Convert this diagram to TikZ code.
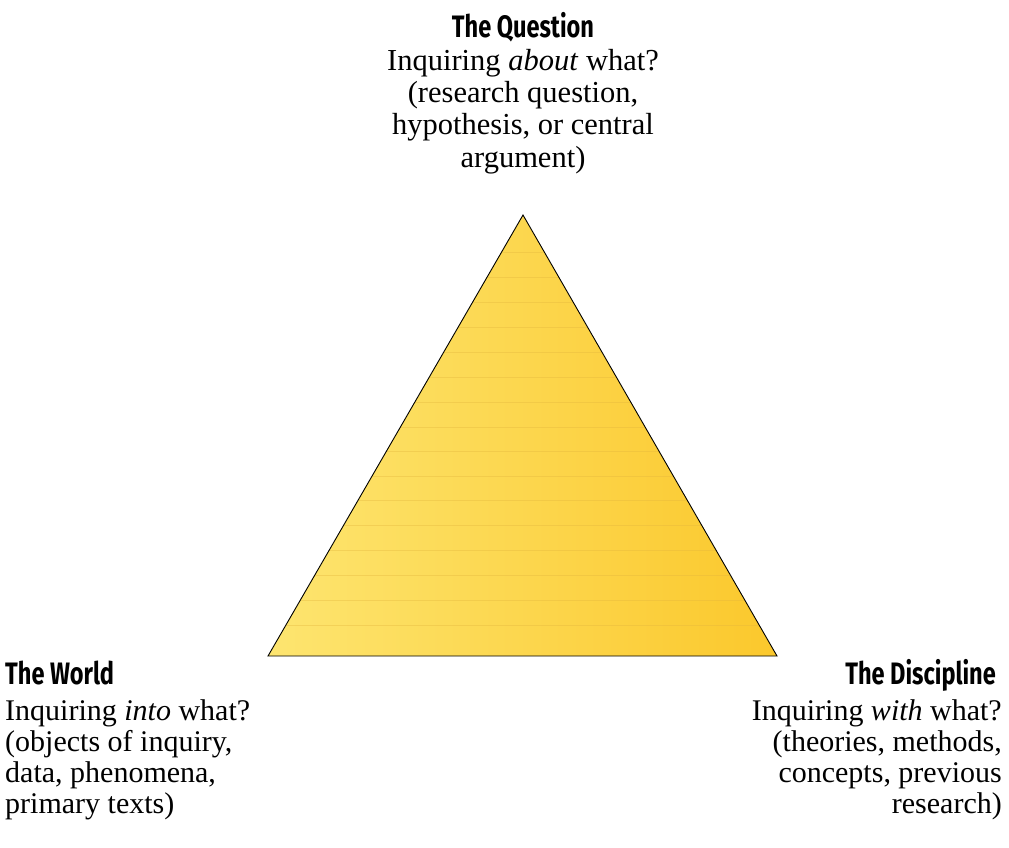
\documentclass[tikz,border=0pt]{standalone}
\usepackage{fontspec}
\setmainfont{Liberation Serif}
\newfontfamily\headfont[FakeStretch=0.76]{Fira Sans}
\definecolor{triL}{RGB}{253,229,112}
\definecolor{triR}{RGB}{251,200,44}
\definecolor{stripe}{RGB}{226,180,60}
\tikzset{
  head/.style={font=\headfont\bfseries\fontsize{31}{31}\selectfont, inner sep=0pt},
  body/.style={font=\fontsize{30.5}{32.3}\selectfont, inner sep=0pt},
  lowbody/.style={font=\fontsize{30}{31.3}\selectfont, inner sep=0pt},
}
\begin{document}
\begin{tikzpicture}[x=1pt,y=-1pt]
\useasboundingbox (0,0) rectangle (1009,847);
\coordinate (apex) at (523,215);
\coordinate (bl) at (268,656);
\coordinate (br) at (777,656);
\begin{scope}
  \clip (apex) -- (bl) -- (br) -- cycle;
  \shade[left color=triL, right color=triR] (268,215) rectangle (777,656);
  \foreach \yy in {252,277,302,327,352,377,402,427,451,476,500,525,550,575,600,625}
    \draw[stripe, opacity=0.35, line width=0.8pt] (268,\yy) -- (777,\yy);
\end{scope}
\draw[line width=0.9pt, line join=miter] (apex) -- (bl) -- (br) -- cycle;

\node[head, anchor=base] (qh) at (523,37) {The Question};
\node[body, anchor=north, align=center] (qb) at (523,49)
  {Inquiring \textit{about} what?\\(research question,\\hypothesis, or central\\argument)};

\node[head, anchor=base west] (wh) at (5,684) {The World};
\node[lowbody, anchor=north west, align=left] (wb) at (5,699)
  {Inquiring \textit{into} what?\\(objects of inquiry,\\data, phenomena,\\primary texts)};

\node[head, anchor=base east] (dh) at (996,684) {The Discipline};
\node[lowbody, anchor=north east, align=right] (db) at (1002,699)
  {Inquiring \textit{with} what?\\(theories, methods,\\concepts, previous\\research)};
\end{tikzpicture}
\end{document}
